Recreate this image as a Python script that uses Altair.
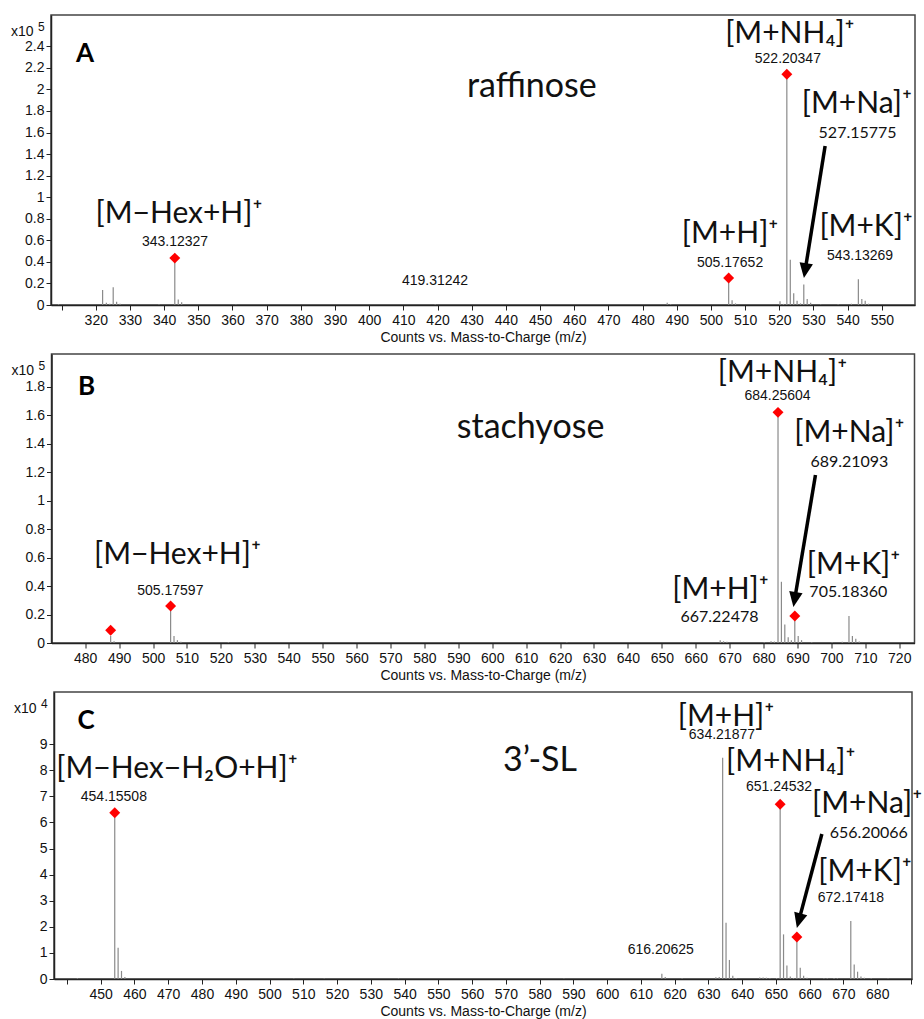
import altair as alt
import pandas as pd

NUM_FONT = "Liberation Sans"
LBL_FONT = "Lato"

# ---------------- Panel A : raffinose (counts x10^5) ----------------
a_mz = [309.1, 322.0, 323.1, 324.1, 325.1, 326.1, 327.1, 338.5, 343.12, 344.13, 345.13,
        361.0, 419.31, 487.2, 488.2, 505.18, 506.18, 507.18, 520.2, 521.2, 522.20, 523.21,
        524.21, 525.2, 526.2, 527.16, 528.16, 529.16, 532.1, 537.2, 541.1, 543.13, 544.14,
        545.13, 546.1]
a_int = [0.008, 0.14, 0.02, 0.012, 0.165, 0.03, 0.012, 0.006, 0.435, 0.05, 0.025,
         0.005, 0.006, 0.02, 0.008, 0.25, 0.045, 0.015, 0.035, 0.01, 2.14, 0.42,
         0.11, 0.04, 0.015, 0.19, 0.055, 0.02, 0.005, 0.006, 0.012, 0.24, 0.055,
         0.04, 0.012]
a_mark_mz = [343.12, 505.18, 522.20]
a_mark_int = [0.435, 0.25, 2.14]
a_ion_text = ["[M−Hex+H]⁺", "[M+H]⁺", "[M+NH₄]⁺", "[M+Na]⁺", "[M+K]⁺"]
a_ion_mz = [344.35, 505.6, 523.1, 542.7, 545.4]
a_ion_y = [0.76, 0.575, 2.43, 1.78, 0.64]
a_num_text = ["343.12327", "419.31242", "505.17652", "522.20347", "543.13269"]
a_num_mz = [343.2, 419.25, 505.6, 522.5, 543.6]
a_num_y = [0.547, 0.186, 0.35, 2.245, 0.417]
a_num2_text = ["527.15775"]
a_num2_mz = [542.9]
a_num2_y = [1.55]
a_arrow = [533.4, 1.475, 527.2, 0.25]      # start mz, start y, tip mz, tip y
a_arrow_angle = 9
a_name = ["raffinose", 447.6, 1.93]
a_letter = ["A", 316.85, 2.33]
a_xdomain = [306.9, 559.7]
a_ydomain = [0, 2.69]
a_xticks = [310, 320, 330, 340, 350, 360, 370, 380, 390, 400, 410, 420, 430, 440, 450,
            460, 470, 480, 490, 500, 510, 520, 530, 540, 550]
a_xhide = [310]
a_yticks = [0, 0.2, 0.4, 0.6, 0.8, 1, 1.2, 1.4, 1.6, 1.8, 2, 2.2, 2.4]
a_exp = "5"

# ---------------- Panel B : stachyose (counts x10^5) ----------------
b_mz = [487.5, 488.5, 505.18, 506.18, 507.18, 508.2, 522.2, 622.0, 667.22, 668.2, 669.2,
        680.2, 682.2, 683.2, 684.26, 685.26, 686.26, 687.26, 688.2, 689.21, 690.21, 691.2,
        694.2, 700.2, 703.2, 705.18, 706.19, 707.19, 708.2]
b_int = [0.05, 0.012, 0.24, 0.05, 0.02, 0.008, 0.006, 0.005, 0.02, 0.012, 0.008,
         0.006, 0.012, 0.01, 1.62, 0.43, 0.13, 0.04, 0.02, 0.18, 0.05, 0.02,
         0.006, 0.006, 0.008, 0.19, 0.05, 0.03, 0.01]
b_mark_mz = [487.5, 505.18, 684.26, 689.21]
b_mark_int = [0.09, 0.26, 1.62, 0.19]
b_ion_text = ["[M−Hex+H]⁺", "[M+H]⁺", "[M+NH₄]⁺", "[M+Na]⁺", "[M+K]⁺"]
b_ion_mz = [507.2, 667.3, 685.6, 705.3, 706.5]
b_ion_y = [0.555, 0.309, 1.833, 1.41, 0.485]
b_num_text = ["505.17597", "684.25604"]
b_num_mz = [505.1, 684.1]
b_num_y = [0.337, 1.706]
b_num2_text = ["689.21093", "667.22478", "705.18360"]
b_num2_mz = [705.3, 667.0, 705.0]
b_num2_y = [1.236, 0.147, 0.323]
b_arrow = [695.3, 1.18, 688.8, 0.253]
b_arrow_angle = 9.5
b_name = ["stachyose", 611.3, 1.44]
b_letter = ["B", 480.4, 1.80]
b_xdomain = [470.06, 724.5]
b_ydomain = [0, 2.03]
b_xticks = [480, 490, 500, 510, 520, 530, 540, 550, 560, 570, 580, 590, 600, 610, 620,
            630, 640, 650, 660, 670, 680, 690, 700, 710, 720]
b_xhide = []
b_yticks = [0, 0.2, 0.4, 0.6, 0.8, 1, 1.2, 1.4, 1.6, 1.8]
b_exp = "5"

# ---------------- Panel C : 3'-SL (counts x10^4) ----------------
c_mz = [443.1, 454.16, 455.16, 456.16, 457.16, 507.2, 516.2, 538.2, 587.2, 616.21, 617.21,
        622.2, 632.2, 633.2, 634.22, 635.22, 636.22, 637.22, 638.2, 645.2, 646.2, 647.2,
        648.2, 650.2, 651.25, 652.25, 653.25, 654.25, 655.2, 656.20, 657.2, 658.2, 659.2,
        664.2, 665.2, 667.2, 668.2, 672.17, 673.18, 674.18, 675.18, 676.2, 678.2, 683.2]
c_int = [0.03, 6.2, 1.2, 0.31, 0.08, 0.02, 0.02, 0.02, 0.02, 0.2, 0.08,
         0.03, 0.07, 0.08, 8.48, 2.16, 0.73, 0.12, 0.04, 0.06, 0.06, 0.05,
         0.03, 0.04, 6.7, 1.71, 0.52, 0.1, 0.04, 1.5, 0.43, 0.12, 0.05,
         0.03, 0.03, 0.04, 0.03, 2.22, 0.56, 0.28, 0.1, 0.05, 0.03, 0.02]
c_mark_mz = [454.16, 651.25, 656.20]
c_mark_int = [6.37, 6.7, 1.61]
c_ion_text = ["[M−Hex−H₂O+H]⁺", "[M+H]⁺", "[M+NH₄]⁺", "[M+Na]⁺", "[M+K]⁺"]
c_ion_mz = [472.6, 635.2, 654.4, 677.0, 676.4]
c_ion_y = [7.70, 9.69, 7.97, 6.36, 3.75]
c_num_text = ["454.15508", "634.21877", "651.24532", "672.17418", "616.20625"]
c_num_mz = [453.9, 634.0, 650.9, 672.2, 615.9]
c_num_y = [6.82, 9.195, 7.20, 2.95, 0.958]
c_num2_text = ["656.20066"]
c_num2_mz = [677.5]
c_num2_y = [5.40]
c_arrow = [663.6, 5.56, 656.2, 1.954]
c_arrow_angle = 15
c_name = ["3’-SL", 580.1, 7.97]
c_letter = ["C", 445.65, 9.885]
c_xdomain = [436.17, 690.3]
c_ydomain = [0, 11.0]
c_xticks = [440, 450, 460, 470, 480, 490, 500, 510, 520, 530, 540, 550, 560, 570, 580,
            590, 600, 610, 620, 630, 640, 650, 660, 670, 680, 690]
c_xhide = [440, 690]
c_yticks = [0, 1, 2, 3, 4, 5, 6, 7, 8, 9]
c_exp = "4"

X_TITLE = "Counts vs. Mass-to-Charge (m/z)"
ARROW_PATH = "M0,0L-0.45,-1L0.45,-1Z"


def panel(mz, inten, mark_mz, mark_int, ion_text, ion_mz, ion_y, num_text, num_mz, num_y,
          num2_text, num2_mz, num2_y, arrow, arrow_angle, name, letter, xdomain, ydomain,
          xticks, xhide, yticks, yfmt, exp, width, height):
    hide_expr = "indexof(%s, datum.value) >= 0 ? '' : datum.label" % (list(xhide),)
    xenc = alt.X("mz:Q", scale=alt.Scale(domain=xdomain, nice=False, zero=False),
                 axis=alt.Axis(values=xticks, labelExpr=hide_expr, title=X_TITLE))
    yenc = alt.Y("y:Q", scale=alt.Scale(domain=ydomain, nice=False, zero=False),
                 axis=alt.Axis(values=yticks, format=yfmt, title=""))

    peaks = pd.DataFrame({"mz": mz, "y": inten, "y0": [0] * len(mz)})
    marks = pd.DataFrame({"mz": mark_mz, "y": mark_int})
    ions = pd.DataFrame({"mz": ion_mz, "y": ion_y, "t": ion_text})
    nums = pd.DataFrame({"mz": num_mz, "y": num_y, "t": num_text})
    nums2 = pd.DataFrame({"mz": num2_mz, "y": num2_y, "t": num2_text})
    frac = 0.9
    arr = pd.DataFrame({"mz": [arrow[0]], "y": [arrow[1]],
                        "mz2": [arrow[0] + frac * (arrow[2] - arrow[0])],
                        "y2": [arrow[1] + frac * (arrow[3] - arrow[1])]})
    tip = pd.DataFrame({"mz": [arrow[2]], "y": [arrow[3]]})
    nm = pd.DataFrame({"mz": [name[1]], "y": [name[2]], "t": [name[0]]})
    lt = pd.DataFrame({"mz": [letter[1]], "y": [letter[2]], "t": [letter[0]]})
    ex1 = pd.DataFrame({"t": ["x10"]})
    ex2 = pd.DataFrame({"t": [exp]})

    rules = alt.Chart(peaks).mark_rule(color="#8a8a8a", strokeWidth=1.2).encode(
        x=xenc, y=yenc, y2=alt.Y2("y0:Q"))
    pts = alt.Chart(marks).mark_point(shape="diamond", filled=True, color="#ff0000",
                                      size=120, opacity=1).encode(x=xenc, y=yenc)
    ion_l = alt.Chart(ions).mark_text(font=LBL_FONT, fontSize=30, align="center",
                                      baseline="alphabetic", color="#111").encode(
        x=xenc, y=yenc, text="t:N")
    num_l = alt.Chart(nums).mark_text(font=NUM_FONT, fontSize=14, align="center",
                                      baseline="alphabetic", color="#111").encode(
        x=xenc, y=yenc, text="t:N")
    num2_l = alt.Chart(nums2).mark_text(font=LBL_FONT, fontSize=16, align="center",
                                        baseline="alphabetic", color="#111").encode(
        x=xenc, y=yenc, text="t:N")
    arr_l = alt.Chart(arr).mark_rule(color="#000", strokeWidth=3.5).encode(
        x=xenc, y=yenc, x2=alt.X2("mz2:Q"), y2=alt.Y2("y2:Q"))
    head = alt.Chart(tip).mark_point(shape=ARROW_PATH, filled=True, color="#000",
                                     size=900, opacity=1, angle=arrow_angle).encode(
        x=xenc, y=yenc)
    nm_l = alt.Chart(nm).mark_text(font=LBL_FONT, fontSize=34, align="center",
                                   baseline="alphabetic", color="#111").encode(
        x=xenc, y=yenc, text="t:N")
    lt_l = alt.Chart(lt).mark_text(font=LBL_FONT, fontSize=26, fontWeight="bold",
                                   align="center", baseline="middle", color="#000").encode(
        x=xenc, y=yenc, text="t:N")
    e1 = alt.Chart(ex1).mark_text(font=NUM_FONT, fontSize=14, align="left",
                                  baseline="alphabetic", color="#111").encode(
        x=alt.value(-40), y=alt.value(21), text="t:N")
    e2 = alt.Chart(ex2).mark_text(font=NUM_FONT, fontSize=12, align="left",
                                  baseline="alphabetic", color="#111").encode(
        x=alt.value(-13), y=alt.value(16), text="t:N")
    return alt.layer(rules, pts, arr_l, head, ion_l, num_l, num2_l, nm_l, lt_l, e1, e2
                     ).properties(width=width, height=height)


pa = panel(a_mz, a_int, a_mark_mz, a_mark_int, a_ion_text, a_ion_mz, a_ion_y, a_num_text,
           a_num_mz, a_num_y, a_num2_text, a_num2_mz, a_num2_y, a_arrow, a_arrow_angle,
           a_name, a_letter, a_xdomain, a_ydomain, a_xticks, a_xhide, a_yticks, ".1~f",
           a_exp, 864, 290)
pb = panel(b_mz, b_int, b_mark_mz, b_mark_int, b_ion_text, b_ion_mz, b_ion_y, b_num_text,
           b_num_mz, b_num_y, b_num2_text, b_num2_mz, b_num2_y, b_arrow, b_arrow_angle,
           b_name, b_letter, b_xdomain, b_ydomain, b_xticks, b_xhide, b_yticks, ".1~f",
           b_exp, 863, 289)
pc = panel(c_mz, c_int, c_mark_mz, c_mark_int, c_ion_text, c_ion_mz, c_ion_y, c_num_text,
           c_num_mz, c_num_y, c_num2_text, c_num2_mz, c_num2_y, c_arrow, c_arrow_angle,
           c_name, c_letter, c_xdomain, c_ydomain, c_xticks, c_xhide, c_yticks, "d",
           c_exp, 858, 287)

chart = alt.vconcat(pa, pb, pc, spacing=49, bounds="flush", center=True).properties(
    padding={"left": 10, "top": 14, "right": 0, "bottom": 0}
).configure_view(
    stroke="#444", strokeWidth=1.5
).configure_axis(
    grid=False, domainColor="#222", domainWidth=1.5, tickColor="#222", tickSize=5,
    labelFont=NUM_FONT, labelFontSize=14, labelColor="#111", labelPadding=2,
    titleFont=NUM_FONT, titleFontSize=14, titleFontWeight="normal", titleColor="#111",
    titlePadding=3
).configure_axisX(labelPadding=3, labelFlush=False, labelOverlap=False)

chart.save("out.html", embed_options={"renderer": "svg", "actions": False})
